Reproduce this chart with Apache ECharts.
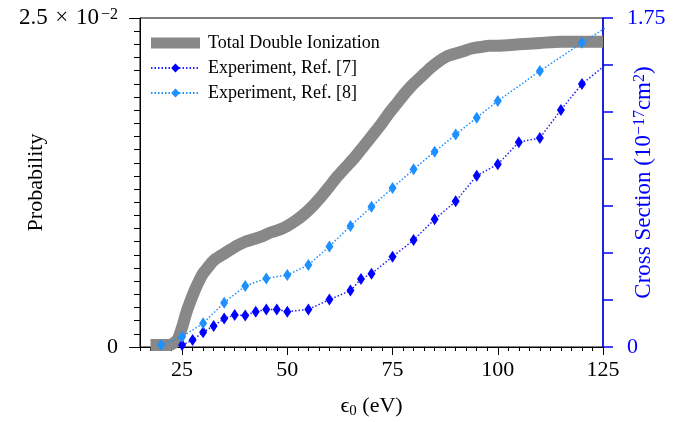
<!DOCTYPE html>
<html><head><meta charset="utf-8">
<script src="https://cdn.jsdelivr.net/npm/echarts@6/dist/echarts.min.js"></script>
<style>html,body{margin:0;padding:0;background:#fff}#c{width:685px;height:422px}</style>
</head><body><div id="c"></div>
<script>
// ---- data ----
const xTickLabels = [25, 50, 75, 100, 125];
const leftTickLabels = [0, 0.025];
const rightTickLabels = [0, 1.75];

// Total Double Ionization (left axis, probability)
const grayE = [17.5, 20, 22, 23, 24, 25, 26, 27, 28, 29, 30, 31, 32, 33, 34, 36, 38, 40, 42, 44, 46, 48, 50, 52, 54, 56, 58, 60, 62, 64, 66, 68, 70, 72, 74, 76, 78, 80, 82, 84, 86, 88, 90, 92, 94, 96, 98, 100, 105, 110, 115, 120, 125];
const grayP = [0.00015, 0.00015, 0.00015, 0.0003, 0.0006, 0.0015, 0.0026, 0.0035, 0.0043, 0.0050, 0.0056, 0.0060, 0.0064, 0.0067, 0.0069, 0.0073, 0.0077, 0.0080, 0.0082, 0.0084, 0.0087, 0.0089, 0.0092, 0.0096, 0.0101, 0.0107, 0.0114, 0.0122, 0.0130, 0.0137, 0.0144, 0.0152, 0.0160, 0.0168, 0.0177, 0.0185, 0.0193, 0.0200, 0.0206, 0.0212, 0.0217, 0.0221, 0.0223, 0.0225, 0.0227, 0.0228, 0.0229, 0.0229, 0.0230, 0.0231, 0.0232, 0.0232, 0.0232];

// Experiment, Ref. [7] (right axis, 1e-17 cm^2)
const ref7E = [25, 27.5, 30, 32.5, 35, 37.5, 40, 42.5, 45, 47.5, 50, 55, 60, 65, 67.5, 70, 75, 80, 85, 90, 95, 100, 105, 110, 115, 120, 130];
const ref7CS = [0.01, 0.037, 0.079, 0.112, 0.151, 0.17, 0.168, 0.188, 0.2, 0.2, 0.188, 0.2, 0.252, 0.3, 0.362, 0.39, 0.48, 0.569, 0.679, 0.775, 0.911, 0.972, 1.089, 1.112, 1.261, 1.399, 1.58];

// Experiment, Ref. [8]
const ref8E = [20, 25, 30, 35, 40, 45, 50, 55, 60, 65, 70, 75, 80, 85, 90, 95, 100, 110, 120, 130];
const ref8CS = [0.01, 0.055, 0.126, 0.236, 0.324, 0.365, 0.383, 0.436, 0.535, 0.644, 0.746, 0.846, 0.945, 1.039, 1.13, 1.22, 1.309, 1.468, 1.618, 1.76];

// ---- chart ----
const FONT = 'Liberation Serif';
const zip = (a, b) => a.map((v, i) => [v, b[i]]);
const chart = echarts.init(document.getElementById('c'), null, {renderer: 'canvas'});

const supRich = {
  b: {fontFamily: FONT, fontSize: 23, lineHeight: 23, verticalAlign: 'bottom'},
  s: {fontFamily: FONT, fontSize: 16, lineHeight: 16, verticalAlign: 'top', padding: [0, 0, 12, 2]}
};

chart.setOption({
  animation: false,
  backgroundColor: '#fff',
  grid: {left: 140, right: 82, top: 18, bottom: 75, containLabel: false, outerBoundsMode: 'none',
         show: true, borderColor: '#000', borderWidth: 1, backgroundColor: 'transparent'},
  legend: {
    orient: 'vertical', left: 150, top: 34, padding: 0, itemWidth: 49, itemHeight: 11, itemGap: 7,
    textStyle: {fontFamily: FONT, fontSize: 18, color: '#000', padding: [0, 0, 0, 3]},
    data: [{name: 'Total Double Ionization', icon: 'rect'}, 'Experiment, Ref. [7]', 'Experiment, Ref. [8]']
  },
  xAxis: [
    {
      type: 'value', min: 15, max: 125, position: 'bottom',
      axisLine: {lineStyle: {color: '#000', width: 1}},
      axisTick: {customValues: xTickLabels, length: 8, lineStyle: {color: '#000'}},
      axisLabel: {customValues: xTickLabels, margin: 12, fontFamily: FONT, fontSize: 22, color: '#000'},
      splitLine: {show: false},
      name: '{b|ϵ}{s|0}{b| (eV)}', nameLocation: 'middle', nameGap: 47, nameMoveOverlap: false,
      nameTextStyle: {color: '#000', rich: {
        b: {fontFamily: FONT, fontSize: 22, color: '#000'},
        s: {fontFamily: FONT, fontSize: 15, color: '#000', padding: [10, 0, 0, 0]}
      }}
    },
    {
      type: 'value', min: 15, max: 125, interval: 2.5, position: 'bottom',
      axisLine: {show: false},
      axisTick: {length: 4, lineStyle: {color: '#000'}},
      axisLabel: {show: false}, splitLine: {show: false}
    }
  ],
  yAxis: [
    {
      type: 'value', min: 0, max: 0.025, interval: 0.025, position: 'left',
      axisLine: {show: true, lineStyle: {color: '#000', width: 1}},
      axisTick: {show: true, length: 11, lineStyle: {color: '#000'}},
      minorTick: {show: true, splitNumber: 25, length: 6, lineStyle: {color: '#000'}},
      axisLabel: {
        margin: 22, fontFamily: FONT, fontSize: 22, color: '#000',
        formatter: v => v === leftTickLabels[0] ? '0' : '{b|2.5\u2004×\u200410}{s|−2}',
        rich: supRich
      },
      splitLine: {show: false}, minorSplitLine: {show: false},
      name: 'Probability', nameLocation: 'middle', nameGap: 93, nameRotate: 90, nameMoveOverlap: false,
      nameTextStyle: {fontFamily: FONT, fontSize: 22, color: '#000'}
    },
    {
      type: 'value', min: 0, max: 1.75, interval: 0.25, position: 'right',
      axisLine: {show: true, lineStyle: {color: '#0000ff', width: 1.5}},
      axisTick: {show: true, length: 10, lineStyle: {color: '#0000ff', width: 1.5}},
      axisLabel: {
        margin: 24, fontFamily: FONT, fontSize: 22, color: '#0000ff',
        formatter: v => rightTickLabels.some(t => Math.abs(t - v) < 1e-9) ? String(v) : ''
      },
      splitLine: {show: false},
      name: '{b|Cross Section (10}{s|−17}{b|cm}{s|2}{b|)}', nameLocation: 'middle', nameGap: 29, nameRotate: 90, nameMoveOverlap: false,
      nameTextStyle: {color: '#0000ff', rich: {
        b: {fontFamily: FONT, fontSize: 23, lineHeight: 23, verticalAlign: 'bottom', color: '#0000ff'},
        s: {fontFamily: FONT, fontSize: 16, lineHeight: 16, verticalAlign: 'top', padding: [0, 0, 12, 0], color: '#0000ff'}
      }}
    }
  ],
  series: [
    {
      name: 'Total Double Ionization', type: 'line', xAxisIndex: 0, yAxisIndex: 0,
      data: zip(grayE, grayP), symbol: 'none', smooth: 0.2, z: 1,
      lineStyle: {width: 12, color: '#888888', cap: 'butt', join: 'round'},
      itemStyle: {color: '#888888'}
    },
    {
      name: 'Experiment, Ref. [7]', type: 'line', xAxisIndex: 0, yAxisIndex: 1,
      data: zip(ref7E, ref7CS), symbol: 'diamond', symbolSize: [8, 12], showAllSymbol: true, z: 3,
      lineStyle: {width: 1.5, type: [1.5, 2], color: '#2222ff'},
      itemStyle: {color: '#0000ff'}
    },
    {
      name: 'Experiment, Ref. [8]', type: 'line', xAxisIndex: 0, yAxisIndex: 1,
      data: zip(ref8E, ref8CS), symbol: 'diamond', symbolSize: [8, 12], showAllSymbol: true, z: 3,
      lineStyle: {width: 1.5, type: [1.5, 2], color: '#1e90ff'},
      itemStyle: {color: '#1e90ff'}
    }
  ]
});
</script></body></html>
